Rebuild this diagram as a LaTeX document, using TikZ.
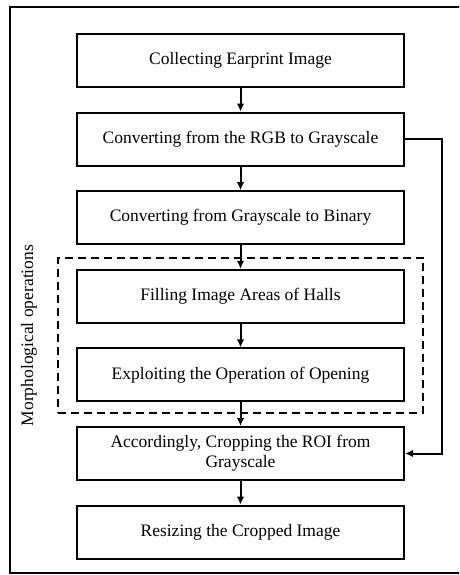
\documentclass[tikz,border=0pt]{standalone}
\usepackage{fontspec}
\setmainfont{Liberation Serif}
\usetikzlibrary{arrows.meta,fit,backgrounds,positioning,calc}

\begin{document}
\begin{tikzpicture}[
  x=1pt,y=1pt,
  >=Latex,
  procbox/.style={rectangle,draw=black,line width=2pt,fill=white,
    minimum width=327pt,minimum height=53pt,align=center,
    font=\fontsize{17.5}{20}\selectfont},
  stagebox/.style={rectangle,draw=black,line width=2pt,dash pattern=on 8pt off 5pt,
    inner xsep=18pt,inner ysep=11pt},
  stagelbl/.style={font=\fontsize{17.5}{20}\selectfont,rotate=90,anchor=center},
  arrow/.style={-{Latex[length=8pt,width=7.5pt]},line width=2pt},
  node distance=23.6pt
]
% ── Área da figura (borda direita da moldura fica fora) ─────────────────────
\clip (0,0) rectangle (459,-575);
\draw[line width=2pt] (10,-7) rectangle (470,-573);

% ── Nós do fluxo ─────────────────────────────────────────────────────────────
\node[procbox] (N1) at (240.5,-60.5) {Collecting Earprint Image};
\node[procbox,below=of N1] (N2) {Converting from the RGB to Grayscale};
\node[procbox,below=of N2] (N3) {Converting from Grayscale to Binary};
% operações morfológicas
\node[procbox,below=of N3] (N4) {Filling Image Areas of Halls};
\node[procbox,below=of N4] (N5) {Exploiting the Operation of Opening};
% recorte e redimensionamento
\node[procbox,below=of N5] (N6) {Accordingly, Cropping the ROI from\\Grayscale};
\node[procbox,below=of N6] (N7) {Resizing the Cropped Image};

% ── Setas ────────────────────────────────────────────────────────────────────
\draw[arrow](N1)--(N2);
\draw[arrow](N2)--(N3);
\draw[arrow](N3)--(N4);
\draw[arrow](N4)--(N5);
\draw[arrow](N5)--(N6);
\draw[arrow](N6)--(N7);
\draw[arrow](N2.east)--++(37,0)|-(N6.east);

% ── Caixa tracejada ──────────────────────────────────────────────────────────
\begin{scope}[on background layer]
  \node[stagebox,fit=(N4)(N5)](stageMOR){};
\end{scope}

% ── Rótulo da etapa ──────────────────────────────────────────────────────────
\coordinate(LBLX) at ($(stageMOR.west)+(-28,0)$);
\node[stagelbl] at (LBLX |- stageMOR.center) {Morphological operations};
\end{tikzpicture}
\end{document}
